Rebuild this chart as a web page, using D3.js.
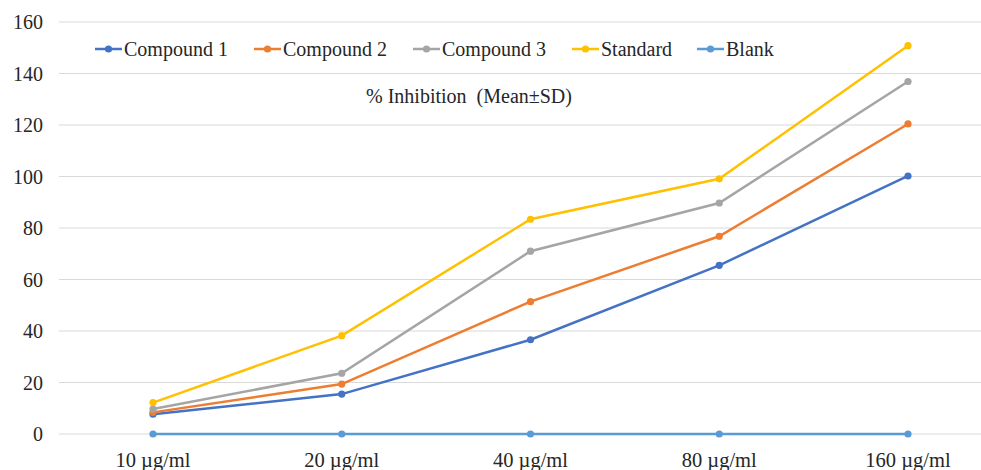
<!DOCTYPE html>
<html><head><meta charset="utf-8">
<script src="https://cdn.jsdelivr.net/npm/d3@7"></script>
<style>body{margin:0;background:#fff}svg{display:block}</style>
</head><body><svg id="c" width="981" height="470" font-family="'Liberation Serif', 'Times New Roman', Tinos, 'DejaVu Serif', serif"></svg>
<script>
const categories = ["10 µg/ml","20 µg/ml","40 µg/ml","80 µg/ml","160 µg/ml"];
const seriesNames = ["Compound 1","Compound 2","Compound 3","Standard","Blank"];
const compound1 = [7.7, 15.5, 36.6, 65.5, 100.2];
const compound2 = [8.4, 19.4, 51.4, 76.8, 120.4];
const compound3 = [9.7, 23.6, 71.0, 89.7, 136.9];
const standard = [12.2, 38.2, 83.4, 99.1, 150.8];
const blank = [0, 0, 0, 0, 0];
const yTicks = [0,20,40,60,80,100,120,140,160];
const colors = ["#4472C4","#ED7D31","#A5A5A5","#FFC000","#5B9BD5"];
const title = "% Inhibition  (Mean±SD)";

const series = [compound1, compound2, compound3, standard, blank];
const svg = d3.select("#c");
const x = d3.scalePoint().domain(categories).range([153, 908]);
const y = d3.scaleLinear().domain([0,160]).range([434, 22]);
const tc = "#262626";

svg.append("g").selectAll("line").data(yTicks).join("line")
  .attr("x1",59).attr("x2",981).attr("y1",d=>y(d)).attr("y2",d=>y(d))
  .attr("stroke","#d9d9d9").attr("stroke-width",1);
svg.append("g").selectAll("text").data(yTicks).join("text")
  .attr("x",43).attr("y",d=>y(d)+7).attr("text-anchor","end").attr("fill",tc)
  .attr("font-size",20).text(d=>d);
svg.append("g").selectAll("text").data(categories).join("text")
  .attr("x",d=>x(d)).attr("y",467).attr("text-anchor","middle").attr("fill",tc)
  .attr("font-size",20.5).text(d=>d);

const line = d3.line().x((d,i)=>x(categories[i])).y(d=>y(d));
const order = [4,0,1,2,3];
order.forEach(k=>{
  const g = svg.append("g");
  g.append("path").datum(series[k]).attr("d",line).attr("fill","none")
    .attr("stroke",colors[k]).attr("stroke-width",2.5);
  g.selectAll("circle").data(series[k]).join("circle")
    .attr("cx",(d,i)=>x(categories[i])).attr("cy",d=>y(d)).attr("r",3.6)
    .attr("fill",colors[k]);
});

svg.append("text").attr("x",469).attr("y",103).attr("text-anchor","middle").attr("fill",tc)
  .attr("font-size",20).style("white-space","pre").text(title);

const legX = [95,254,413,572,697];
const leg = svg.append("g");
seriesNames.forEach((n,k)=>{
  const lx = legX[k];
  leg.append("line").attr("x1",lx).attr("x2",lx+27).attr("y1",49).attr("y2",49)
    .attr("stroke",colors[k]).attr("stroke-width",2.5);
  leg.append("circle").attr("cx",lx+13.5).attr("cy",49).attr("r",3.6).attr("fill",colors[k]);
  leg.append("text").attr("x",lx+29).attr("y",56).attr("fill",tc).attr("font-size",20).text(n);
});
</script></body></html>
